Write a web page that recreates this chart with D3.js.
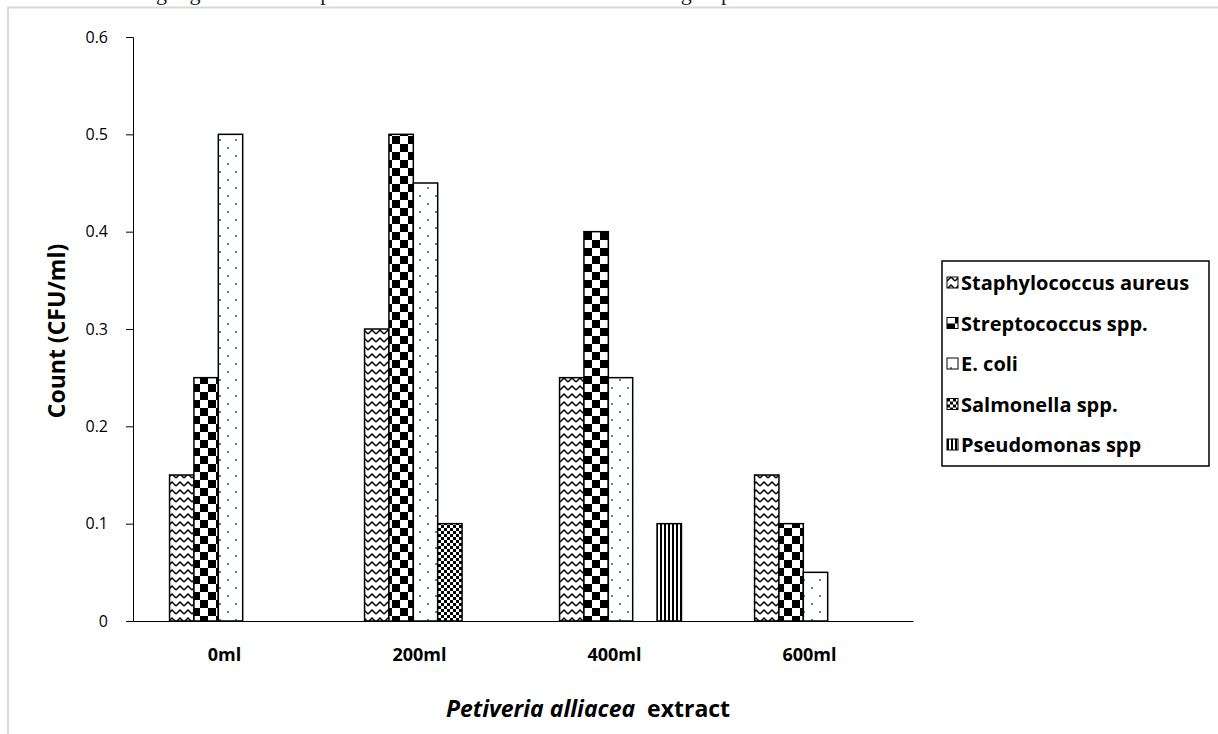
<!DOCTYPE html>
<html>
<head>
<meta charset="utf-8">
<script src="https://cdn.jsdelivr.net/npm/d3@7"></script>
<style>
  body { margin: 0; background: #fff; }
  svg { display: block; font-family: "Open Sans", Lato, sans-serif; }
</style>
</head>
<body>
<div id="chart"></div>
<script>
// dữ liệu
const categories = ["0ml", "200ml", "400ml", "600ml"];
const series = ["Staphylococcus aureus", "Streptococcus spp.", "E. coli", "Salmonella spp.", "Pseudomonas spp"];
const staphValues = [0.15, 0.30, 0.25, 0.15];
const streptoValues = [0.25, 0.50, 0.40, 0.10];
const ecoliValues = [0.50, 0.45, 0.25, 0.05];
const salmonellaValues = [0, 0.10, 0, 0];
const pseudoValues = [0, 0, 0.10, 0];
const yTicks = [0, 0.1, 0.2, 0.3, 0.4, 0.5, 0.6];
const yTickLabels = ["0", "0.1", "0.2", "0.3", "0.4", "0.5", "0.6"];

const valuesBySeries = [staphValues, streptoValues, ecoliValues, salmonellaValues, pseudoValues];
const patternIds = ["zigzag", "bigcheck", "dots", "smallcheck", "vstripes"];

const rows = [];
categories.forEach((c, i) => {
    series.forEach((s, j) => rows.push({ cat: c, ser: s, value: valuesBySeries[j][i], pat: patternIds[j] }));
});

const W = 1218, H = 734;
const svg = d3.select("#chart").append("svg")
    .attr("width", W)
    .attr("height", H);

// dòng chữ của tài liệu bị cắt ở mép trên
svg.append("text")
    .attr("x", 2)
    .attr("y", 0)
    .style("font-family", "'Liberation Serif', serif")
    .style("font-size", "22px")
    .style("fill", "#222")
    .text("observed and weight gain with a 65 percent reduction observed in the 600ml group.");

// khung xám
svg.append("rect")
    .attr("x", 8).attr("y", 7.5)
    .attr("width", W).attr("height", H)
    .attr("fill", "none")
    .attr("stroke", "#d9d9d9")
    .attr("stroke-width", 2);

// patterns
const defs = svg.append("defs");
function pattern(id, w, h) {
    return defs.append("pattern")
        .attr("id", id)
        .attr("patternUnits", "userSpaceOnUse")
        .attr("width", w).attr("height", h);
}
let p = pattern("zigzag", 8, 8);
p.append("rect").attr("width", 8).attr("height", 8).attr("fill", "#fff");
p.append("path").attr("d", "M0,6 L4,2 L8,6").attr("fill", "none").attr("stroke", "#000").attr("stroke-width", 1.5);

p = pattern("bigcheck", 16, 16);
p.append("rect").attr("width", 16).attr("height", 16).attr("fill", "#fff");
p.append("rect").attr("width", 8).attr("height", 8).attr("fill", "#000");
p.append("rect").attr("x", 8).attr("y", 8).attr("width", 8).attr("height", 8).attr("fill", "#000");

p = pattern("dots", 16, 16);
p.append("rect").attr("width", 16).attr("height", 16).attr("fill", "#fff");
p.append("rect").attr("x", 3).attr("y", 3).attr("width", 2).attr("height", 2).attr("fill", "#4a86c8");
p.append("rect").attr("x", 11).attr("y", 11).attr("width", 2).attr("height", 2).attr("fill", "#4a86c8");

p = pattern("smallcheck", 6, 6);
p.append("rect").attr("width", 6).attr("height", 6).attr("fill", "#fff");
p.append("rect").attr("width", 3).attr("height", 3).attr("fill", "#000");
p.append("rect").attr("x", 3).attr("y", 3).attr("width", 3).attr("height", 3).attr("fill", "#000");

p = pattern("vstripes", 4, 4);
p.append("rect").attr("width", 4).attr("height", 4).attr("fill", "#fff");
p.append("rect").attr("width", 2).attr("height", 4).attr("fill", "#000");

// thang đo
const plotLeft = 133, plotRight = 913, plotTop = 37, plotBottom = 621;
const x0 = d3.scaleBand().domain(categories).range([plotLeft, plotRight]).padding(0);
const bw = x0.bandwidth();
const x1 = d3.scaleBand().domain(series).range([bw * 0.1875, bw * 0.8125]).padding(0);
const y = d3.scaleLinear().domain([0, 0.6]).range([plotBottom, plotTop]);

// cột
svg.append("g").selectAll("rect")
    .data(rows.filter(d => d.value > 0))
    .join("rect")
    .attr("x", d => x0(d.cat) + x1(d.ser))
    .attr("y", d => y(d.value))
    .attr("width", x1.bandwidth())
    .attr("height", d => y(0) - y(d.value))
    .attr("fill", d => `url(#${d.pat})`)
    .attr("stroke", "#000")
    .attr("stroke-width", 1.5);

// trục y
const yAxis = svg.append("g")
    .attr("transform", `translate(${plotLeft},0)`)
    .call(d3.axisLeft(y).tickValues(yTicks).tickFormat((d, i) => yTickLabels[i]).tickSize(7).tickSizeOuter(7).tickPadding(18));
yAxis.attr("font-family", null);
yAxis.select(".domain").attr("stroke", "#000");
yAxis.selectAll("text")
    .style("font-family", "'Open Sans', sans-serif")
    .style("font-size", "16px")
    .attr("fill", "#000");

// trục x
const xAxis = svg.append("g")
    .attr("transform", `translate(0,${plotBottom})`)
    .call(d3.axisBottom(x0).tickSize(0).tickPadding(27));
xAxis.attr("font-family", null);
xAxis.select(".domain").attr("stroke", "#000");
xAxis.selectAll("text")
    .attr("dx", -6)
    .style("font-family", "'Open Sans', sans-serif")
    .style("font-size", "18px")
    .style("font-weight", "bold")
    .attr("fill", "#000");

// tiêu đề trục
svg.append("text")
    .attr("transform", `translate(57,${(plotTop + plotBottom) / 2 + 2}) rotate(-90)`)
    .attr("text-anchor", "middle")
    .attr("dy", "0.35em")
    .style("font-size", "23px")
    .style("font-weight", "bold")
    .text("Count (CFU/ml)");

const xt = svg.append("text")
    .attr("x", 588)
    .attr("y", 717)
    .attr("text-anchor", "middle")
    .style("font-size", "23px")
    .style("font-weight", "bold");
xt.append("tspan").style("font-style", "italic").text("Petiveria alliacea");
xt.append("tspan").text("\u00a0 extract");

// chú giải
const legend = svg.append("g").attr("transform", "translate(942,261)");
legend.append("rect")
    .attr("width", 267).attr("height", 205)
    .attr("fill", "#fff").attr("stroke", "#000").attr("stroke-width", 1.5);
series.forEach((s, i) => {
    const row = legend.append("g").attr("transform", `translate(5,${22 + i * 40.5})`);
    row.append("rect")
        .attr("x", 0).attr("y", -6)
        .attr("width", 11).attr("height", 11)
        .attr("fill", `url(#${patternIds[i]})`)
        .attr("stroke", "#000").attr("stroke-width", 1);
    row.append("text")
        .attr("x", 14)
        .attr("dy", "0.35em")
        .style("font-size", "20px")
        .style("font-weight", "bold")
        .text(s);
});
</script>
</body>
</html>
